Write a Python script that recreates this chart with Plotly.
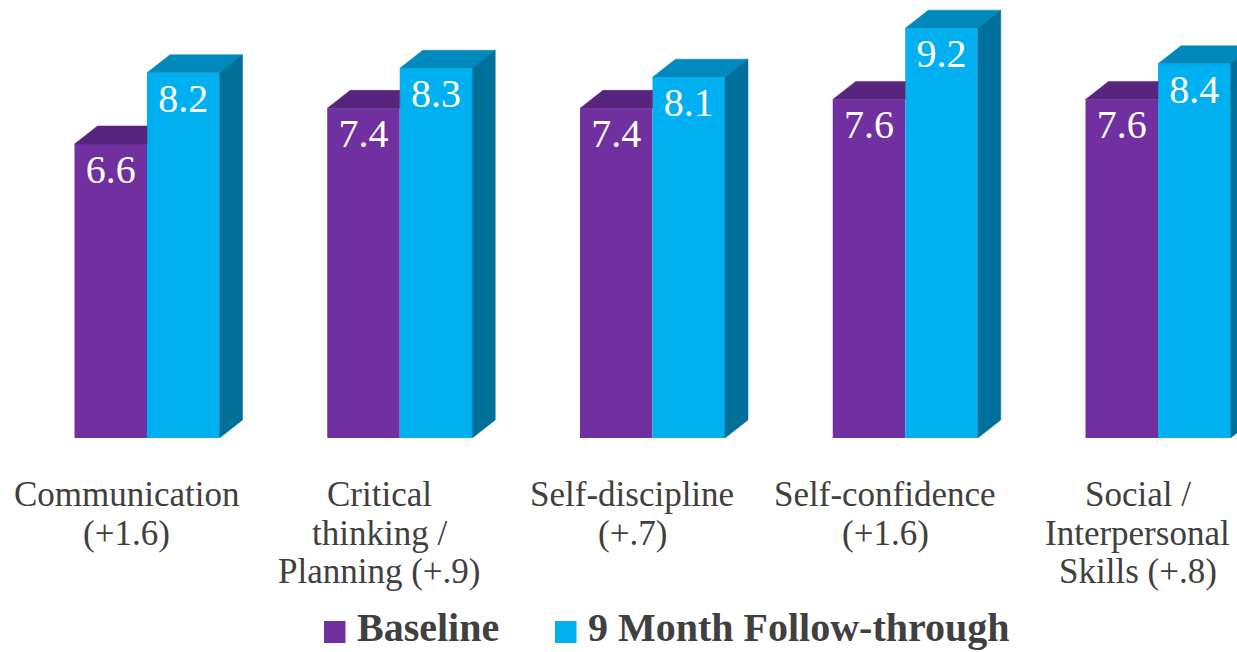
import plotly.graph_objects as go

# ---- data ----
categories = [
    ["Communication", "(+1.6)"],
    ["Critical", "thinking /", "Planning (+.9)"],
    ["Self-discipline", "(+.7)"],
    ["Self-confidence", "(+1.6)"],
    ["Social /", "Interpersonal", "Skills (+.8)"],
]
baseline = [6.6, 7.4, 7.4, 7.6, 7.6]
followup = [8.2, 8.3, 8.1, 9.2, 8.4]
series_names = ["Baseline", "9 Month Follow-through"]

# ---- style / geometry ----
W, H = 1237, 652
PLOT_BOTTOM = 438          # pixel row of value 0
UNIT_X = 252.75            # px per category
UNIT_Y = 44.55             # px per value unit
BAR_W = 72.5 / UNIT_X
DX = 23 / UNIT_X           # 3D depth offset (x, data units)
DY = 18 / UNIT_Y           # 3D depth offset (y, data units)
X0 = -147 / UNIT_X
X1 = X0 + W / UNIT_X
YMAX = PLOT_BOTTOM / UNIT_Y

PURPLE = "#7030A0"
PURPLE_TOP = "#57247E"
CYAN = "#00B0F0"
CYAN_TOP = "#0089BC"
CYAN_SIDE = "#00709B"
TEXT = "#404040"
FONT = "Times New Roman, Liberation Serif, Times, serif"

xs = list(range(len(categories)))
fig = go.Figure()

# front faces
fig.add_trace(go.Bar(x=xs, y=baseline, offset=-BAR_W, width=BAR_W,
                     marker=dict(color=PURPLE, line=dict(width=0)),
                     text=[f"{v:.1f}" for v in baseline], textposition="inside",
                     insidetextanchor="end", textangle=0,
                     textfont=dict(family=FONT, size=40, color="white"),
                     name=series_names[0], showlegend=False, hoverinfo="skip"))
fig.add_trace(go.Bar(x=xs, y=followup, offset=0, width=BAR_W,
                     marker=dict(color=CYAN, line=dict(width=0)),
                     text=[f"{v:.1f}" for v in followup], textposition="inside",
                     insidetextanchor="end", textangle=0,
                     textfont=dict(family=FONT, size=40, color="white"),
                     name=series_names[1], showlegend=False, hoverinfo="skip"))

# 3D faces
pt_x, pt_y = [], []   # purple top
ct_x, ct_y = [], []   # cyan top
cs_x, cs_y = [], []   # cyan side
for i, (b, f) in enumerate(zip(baseline, followup)):
    xl, xr = i - BAR_W, i
    pt_x += [xl, xr, xr, xl + DX, xl, None]
    pt_y += [b, b, b + DY, b + DY, b, None]
    xl2, xr2 = i, i + BAR_W
    ct_x += [xl2, xr2, xr2 + DX, xl2 + DX, xl2, None]
    ct_y += [f, f, f + DY, f + DY, f, None]
    cs_x += [xr2, xr2 + DX, xr2 + DX, xr2, xr2, None]
    cs_y += [0, DY, f + DY, f, 0, None]

for px, py, col in [(pt_x, pt_y, PURPLE_TOP), (ct_x, ct_y, CYAN_TOP), (cs_x, cs_y, CYAN_SIDE)]:
    fig.add_trace(go.Scatter(x=px, y=py, mode="lines", fill="toself", fillcolor=col,
                             line=dict(width=0.5, color=col), showlegend=False,
                             hoverinfo="skip"))

def py2paper(p):
    return (PLOT_BOTTOM - p) / PLOT_BOTTOM

annotations = []
line_centers = [494, 533, 571]
for i, lines in enumerate(categories):
    for k, ln in enumerate(lines):
        annotations.append(dict(x=i - 0.08, xref="x", y=py2paper(line_centers[k]), yref="paper",
                                text=ln, showarrow=False, xanchor="center", yanchor="middle",
                                font=dict(family=FONT, size=35, color=TEXT)))

# legend (manual)
shapes = []
legend_items = [(324, 355, PURPLE, series_names[0]), (555, 586, CYAN, series_names[1])]
for sx, tx, col, name in legend_items:
    shapes.append(dict(type="rect", xref="paper", yref="paper",
                       x0=sx / W, x1=(sx + 21.5) / W, y0=py2paper(643), y1=py2paper(621),
                       fillcolor=col, line=dict(width=0)))
    annotations.append(dict(x=tx / W, xref="paper", y=py2paper(627), yref="paper",
                            text=f"<b>{name}</b>", showarrow=False, xanchor="left",
                            yanchor="middle", font=dict(family=FONT, size=40, color=TEXT)))

fig.update_layout(
    width=W, height=H,
    margin=dict(l=0, r=0, t=0, b=H - PLOT_BOTTOM, pad=0),
    paper_bgcolor="white", plot_bgcolor="white",
    barmode="overlay",
    xaxis=dict(range=[X0, X1], visible=False, fixedrange=True),
    yaxis=dict(range=[0, YMAX], visible=False, fixedrange=True),
    showlegend=False,
    annotations=annotations, shapes=shapes,
    uniformtext=dict(mode=False),
)

fig.write_html("out.html", config={"displayModeBar": False, "staticPlot": True})
